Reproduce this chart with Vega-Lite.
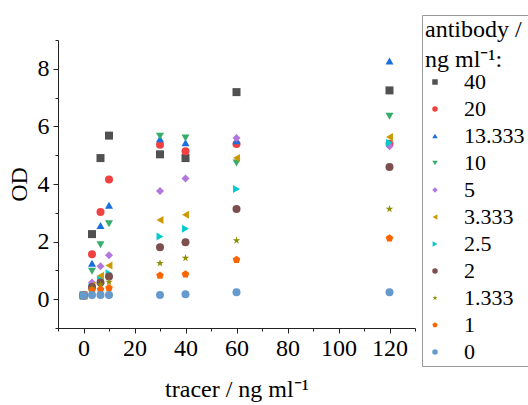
{
  "$schema": "https://vega.github.io/schema/vega-lite/v6.json",
  "width": 357,
  "height": 288,
  "autosize": "none",
  "padding": {"left": 58, "top": 40, "right": 113, "bottom": 77},
  "background": "white",
  "config": {
    "view": {"stroke": null},
    "font": "Liberation Serif",
    "axis": {"labelFont": "Liberation Serif", "titleFont": "Liberation Serif"},
    "legend": {"labelFont": "Liberation Serif", "titleFont": "Liberation Serif"}
  },
  "data": {"values": [
    {"tracer": 0, "antibody": "40", "OD": 0.13},
    {"tracer": 3.333, "antibody": "40", "OD": 2.26},
    {"tracer": 6.667, "antibody": "40", "OD": 4.9},
    {"tracer": 10, "antibody": "40", "OD": 5.68},
    {"tracer": 30, "antibody": "40", "OD": 5.03},
    {"tracer": 40, "antibody": "40", "OD": 4.9},
    {"tracer": 60, "antibody": "40", "OD": 7.19},
    {"tracer": 120, "antibody": "40", "OD": 7.25},
    {"tracer": 0, "antibody": "20", "OD": 0.14},
    {"tracer": 3.333, "antibody": "20", "OD": 1.56},
    {"tracer": 6.667, "antibody": "20", "OD": 3.03},
    {"tracer": 10, "antibody": "20", "OD": 4.16},
    {"tracer": 30, "antibody": "20", "OD": 5.36},
    {"tracer": 40, "antibody": "20", "OD": 5.14},
    {"tracer": 60, "antibody": "20", "OD": 5.39},
    {"tracer": 120, "antibody": "20", "OD": 5.4},
    {"tracer": 0, "antibody": "13.333", "OD": 0.14},
    {"tracer": 3.333, "antibody": "13.333", "OD": 1.25},
    {"tracer": 6.667, "antibody": "13.333", "OD": 2.56},
    {"tracer": 10, "antibody": "13.333", "OD": 3.26},
    {"tracer": 30, "antibody": "13.333", "OD": 5.57},
    {"tracer": 40, "antibody": "13.333", "OD": 5.43},
    {"tracer": 60, "antibody": "13.333", "OD": 5.5},
    {"tracer": 120, "antibody": "13.333", "OD": 8.27},
    {"tracer": 0, "antibody": "10", "OD": 0.13},
    {"tracer": 3.333, "antibody": "10", "OD": 0.97},
    {"tracer": 6.667, "antibody": "10", "OD": 1.89},
    {"tracer": 10, "antibody": "10", "OD": 2.62},
    {"tracer": 30, "antibody": "10", "OD": 5.66},
    {"tracer": 40, "antibody": "10", "OD": 5.6},
    {"tracer": 60, "antibody": "10", "OD": 4.73},
    {"tracer": 120, "antibody": "10", "OD": 6.35},
    {"tracer": 0, "antibody": "5", "OD": 0.13},
    {"tracer": 3.333, "antibody": "5", "OD": 0.58},
    {"tracer": 6.667, "antibody": "5", "OD": 1.14},
    {"tracer": 10, "antibody": "5", "OD": 1.53},
    {"tracer": 30, "antibody": "5", "OD": 3.76},
    {"tracer": 40, "antibody": "5", "OD": 4.19},
    {"tracer": 60, "antibody": "5", "OD": 5.6},
    {"tracer": 120, "antibody": "5", "OD": 5.31},
    {"tracer": 0, "antibody": "3.333", "OD": 0.13},
    {"tracer": 3.333, "antibody": "3.333", "OD": 0.48},
    {"tracer": 6.667, "antibody": "3.333", "OD": 0.81},
    {"tracer": 10, "antibody": "3.333", "OD": 1.17},
    {"tracer": 30, "antibody": "3.333", "OD": 2.75},
    {"tracer": 40, "antibody": "3.333", "OD": 2.93},
    {"tracer": 60, "antibody": "3.333", "OD": 4.9},
    {"tracer": 120, "antibody": "3.333", "OD": 5.63},
    {"tracer": 0, "antibody": "2.5", "OD": 0.13},
    {"tracer": 3.333, "antibody": "2.5", "OD": 0.42},
    {"tracer": 6.667, "antibody": "2.5", "OD": 0.68},
    {"tracer": 10, "antibody": "2.5", "OD": 0.9},
    {"tracer": 30, "antibody": "2.5", "OD": 2.18},
    {"tracer": 40, "antibody": "2.5", "OD": 2.45},
    {"tracer": 60, "antibody": "2.5", "OD": 3.83},
    {"tracer": 120, "antibody": "2.5", "OD": 5.43},
    {"tracer": 0, "antibody": "2", "OD": 0.13},
    {"tracer": 3.333, "antibody": "2", "OD": 0.42},
    {"tracer": 6.667, "antibody": "2", "OD": 0.58},
    {"tracer": 10, "antibody": "2", "OD": 0.79},
    {"tracer": 30, "antibody": "2", "OD": 1.8},
    {"tracer": 40, "antibody": "2", "OD": 1.98},
    {"tracer": 60, "antibody": "2", "OD": 3.13},
    {"tracer": 120, "antibody": "2", "OD": 4.59},
    {"tracer": 0, "antibody": "1.333", "OD": 0.13},
    {"tracer": 3.333, "antibody": "1.333", "OD": 0.38},
    {"tracer": 6.667, "antibody": "1.333", "OD": 0.5},
    {"tracer": 10, "antibody": "1.333", "OD": 0.6},
    {"tracer": 30, "antibody": "1.333", "OD": 1.25},
    {"tracer": 40, "antibody": "1.333", "OD": 1.43},
    {"tracer": 60, "antibody": "1.333", "OD": 2.04},
    {"tracer": 120, "antibody": "1.333", "OD": 3.13},
    {"tracer": 0, "antibody": "1", "OD": 0.13},
    {"tracer": 3.333, "antibody": "1", "OD": 0.3},
    {"tracer": 6.667, "antibody": "1", "OD": 0.34},
    {"tracer": 10, "antibody": "1", "OD": 0.39},
    {"tracer": 30, "antibody": "1", "OD": 0.82},
    {"tracer": 40, "antibody": "1", "OD": 0.87},
    {"tracer": 60, "antibody": "1", "OD": 1.37},
    {"tracer": 120, "antibody": "1", "OD": 2.12},
    {"tracer": 0, "antibody": "0", "OD": 0.13},
    {"tracer": 3.333, "antibody": "0", "OD": 0.15},
    {"tracer": 6.667, "antibody": "0", "OD": 0.15},
    {"tracer": 10, "antibody": "0", "OD": 0.15},
    {"tracer": 30, "antibody": "0", "OD": 0.15},
    {"tracer": 40, "antibody": "0", "OD": 0.17},
    {"tracer": 60, "antibody": "0", "OD": 0.24},
    {"tracer": 120, "antibody": "0", "OD": 0.24}
  ]},
  "mark": {"type": "point", "filled": true, "opacity": 1, "size": 64},
  "encoding": {
    "x": {
      "field": "tracer", "type": "quantitative",
      "scale": {"domain": [-10, 130], "nice": false, "zero": false},
      "axis": {
        "title": "tracer / ng ml⁻¹",
        "values": [-10, 0, 10, 20, 30, 40, 50, 60, 70, 80, 90, 100, 110, 120, 130],
        "labelExpr": "datum.value >= 0 && datum.value <= 120 && datum.value % 20 === 0 ? datum.label : ''",
        "tickSize": {"condition": {"test": "datum.value % 20 === 0", "value": 5}, "value": 3},
        "grid": false, "labelOverlap": false, "labelFlush": false,
        "domainColor": "#222", "tickColor": "#222",
        "labelFont": "Liberation Serif", "titleFont": "Liberation Serif",
        "labelFontSize": 24, "labelColor": "#000", "labelPadding": 3,
        "titleFontSize": 24, "titleFontWeight": "normal", "titleColor": "#000", "titlePadding": 17
      }
    },
    "y": {
      "field": "OD", "type": "quantitative",
      "scale": {"domain": [-1, 9], "nice": false, "zero": false},
      "axis": {
        "title": "OD",
        "values": [-1, 0, 1, 2, 3, 4, 5, 6, 7, 8, 9],
        "labelExpr": "datum.value >= 0 && datum.value % 2 === 0 ? datum.label : ''",
        "tickSize": {"condition": {"test": "datum.value % 2 === 0", "value": 5}, "value": 3},
        "grid": false, "labelOverlap": false, "labelFlush": false,
        "domainColor": "#222", "tickColor": "#222",
        "labelFont": "Liberation Serif", "titleFont": "Liberation Serif",
        "labelFontSize": 24, "labelColor": "#000", "labelPadding": 4,
        "titleFontSize": 24, "titleFontWeight": "normal", "titleColor": "#000", "titlePadding": 6
      }
    },
    "color": {
      "field": "antibody", "type": "nominal",
      "scale": {
        "domain": ["40", "20", "13.333", "10", "5", "3.333", "2.5", "2", "1.333", "1", "0"],
        "range": ["#515151", "#F14040", "#1A6FDF", "#37AD6B", "#B177DE", "#CC9900", "#00CBCC", "#7D4E4E", "#8E8E00", "#FB6501", "#6699CC"]
      },
      "legend": {
        "orient": "none", "legendX": 364, "legendY": -25,
        "title": ["antibody /", "ng ml⁻¹:"],
        "titleFont": "Liberation Serif", "labelFont": "Liberation Serif",
        "titleFontSize": 24, "titleFontWeight": "normal", "titleColor": "#000", "titleLineHeight": 30, "titlePadding": -1,
        "labelFontSize": 22, "labelColor": "#000",
        "symbolSize": 30, "symbolOffset": -1, "labelOffset": 18, "rowPadding": 5,
        "padding": 3, "strokeColor": "#999"
      }
    },
    "shape": {
      "field": "antibody", "type": "nominal",
      "scale": {
        "domain": ["40", "20", "13.333", "10", "5", "3.333", "2.5", "2", "1.333", "1", "0"],
        "range": ["square", "circle", "triangle-up", "triangle-down", "diamond", "triangle-left", "triangle-right", "circle",
          "M0,-1L0.2233,-0.3074L0.9511,-0.309L0.3614,0.1174L0.5878,0.809L0,0.38L-0.5878,0.809L-0.3614,0.1174L-0.9511,-0.309L-0.2233,-0.3074Z",
          "M0,-1L0.9511,-0.309L0.5878,0.809L-0.5878,0.809L-0.9511,-0.309Z",
          "circle"]
      },
      "legend": {
        "orient": "none", "legendX": 364, "legendY": -25,
        "title": ["antibody /", "ng ml⁻¹:"],
        "titleFont": "Liberation Serif", "labelFont": "Liberation Serif",
        "titleFontSize": 24, "titleFontWeight": "normal", "titleColor": "#000", "titleLineHeight": 30, "titlePadding": -1,
        "labelFontSize": 22, "labelColor": "#000",
        "symbolSize": 30, "symbolOffset": -1, "labelOffset": 18, "rowPadding": 5,
        "padding": 3, "strokeColor": "#999"
      }
    }
  }
}
